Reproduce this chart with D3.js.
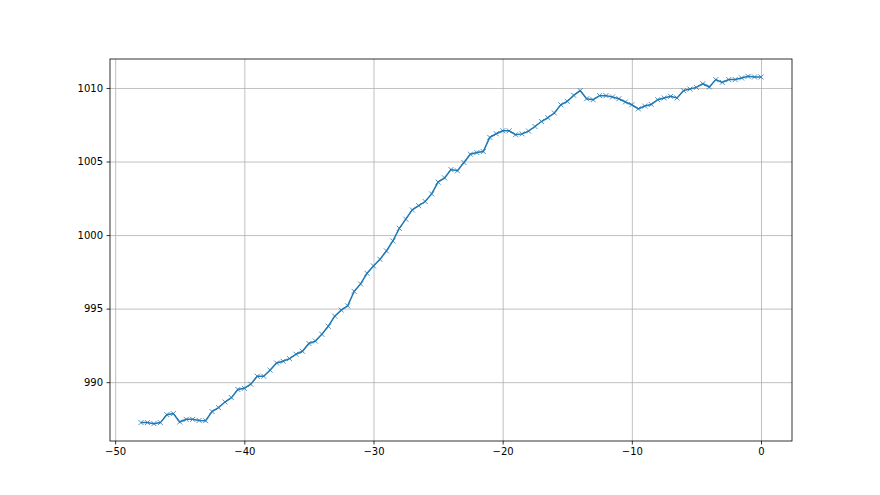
<!DOCTYPE html>
<html>
<head>
<meta charset="utf-8">
<script src="https://cdn.jsdelivr.net/npm/d3@7"></script>
<style>
  body { margin: 0; background: #fff; }
  svg text { font-family: "DejaVu Sans", sans-serif; font-size: 10px; fill: #000; }
  .grid line { stroke: #b0b0b0; stroke-width: 0.8; }
  .grid path { display: none; }
</style>
</head>
<body>
<div id="chart"></div>
<script>
// x positions (step 0.5 from -48 to 0)
var xs = d3.range(-48, 0.001, 0.5);

var values = [
  987.25, 987.25, 987.18, 987.25, 987.79, 987.86, 987.29, 987.47, 987.47, 987.40,
  987.38, 988.00, 988.27, 988.65, 988.95, 989.50, 989.58, 989.86, 990.40, 990.40,
  990.82, 991.30, 991.42, 991.60, 991.90, 992.10, 992.63, 992.79, 993.26, 993.80,
  994.49, 994.90, 995.19, 996.17, 996.68, 997.40, 997.90, 998.35, 998.92, 999.60,
  1000.46, 1001.08, 1001.71, 1002.00, 1002.28, 1002.80, 1003.60, 1003.89, 1004.45, 1004.37,
  1004.93, 1005.50, 1005.61, 1005.68, 1006.64, 1006.89, 1007.09, 1007.09, 1006.82, 1006.88,
  1007.07, 1007.38, 1007.72, 1007.98, 1008.30, 1008.86, 1009.09, 1009.50, 1009.82, 1009.27,
  1009.20, 1009.48, 1009.48, 1009.39, 1009.27, 1009.05, 1008.86, 1008.58, 1008.77, 1008.88,
  1009.20, 1009.32, 1009.43, 1009.32, 1009.82, 1009.93, 1010.04, 1010.29, 1010.07, 1010.57,
  1010.38, 1010.57, 1010.57, 1010.68, 1010.79, 1010.75, 1010.75
];

var xTicks = [-50, -40, -30, -20, -10, 0];
var yTicks = [990, 995, 1000, 1005, 1010];

var data = xs.map(function (x, i) { return { x: x, y: values[i] }; });

var W = 880, H = 495;
var margin = { top: 59, right: 88, bottom: 54, left: 110 },
  width = W - margin.left - margin.right,
  height = H - margin.top - margin.bottom;

// matplotlib-like 5% padding around the data
var xExt = d3.extent(xs), yExt = d3.extent(values);
var xPad = (xExt[1] - xExt[0]) * 0.05, yPad = (yExt[1] - yExt[0]) * 0.05;

var x = d3.scaleLinear().domain([xExt[0] - xPad, xExt[1] + xPad]).range([0, width]);
var y = d3.scaleLinear().domain([yExt[0] - yPad, yExt[1] + yPad]).range([height, 0]);

var fmt = function (d) { return d3.format("d")(d).replace("-", "\u2212"); };

var svg = d3.select("#chart").append("svg")
  .attr("width", W)
  .attr("height", H)
  .append("g")
  .attr("transform", "translate(" + margin.left + "," + margin.top + ")");

svg.append("g")
  .attr("class", "grid")
  .call(d3.axisLeft(y).tickValues(yTicks).tickSize(-width).tickFormat(""));

svg.append("g")
  .attr("class", "grid")
  .attr("transform", "translate(0," + height + ")")
  .call(d3.axisBottom(x).tickValues(xTicks).tickSize(-height).tickFormat(""));

var line = d3.line()
  .x(function (d) { return x(d.x); })
  .y(function (d) { return y(d.y); });

svg.append("path")
  .datum(data)
  .attr("fill", "none")
  .attr("stroke", "#1f77b4")
  .attr("stroke-width", 1.5)
  .attr("d", line);

var m = 2.5;
svg.selectAll(".mark")
  .data(data)
  .enter()
  .append("path")
  .attr("class", "mark")
  .attr("transform", function (d) { return "translate(" + x(d.x) + "," + y(d.y) + ")"; })
  .attr("d", "M" + -m + "," + -m + "L" + m + "," + m + "M" + -m + "," + m + "L" + m + "," + -m)
  .attr("stroke", "#1f77b4")
  .attr("stroke-width", 0.8)
  .attr("fill", "none");

var yAxis = svg.append("g")
  .call(d3.axisLeft(y).tickValues(yTicks).tickFormat(fmt).tickSizeInner(3.5).tickSizeOuter(0).tickPadding(3.5));

var xAxis = svg.append("g")
  .attr("transform", "translate(0," + height + ")")
  .call(d3.axisBottom(x).tickValues(xTicks).tickFormat(fmt).tickSizeInner(3.5).tickSizeOuter(0).tickPadding(3.5));

[yAxis, xAxis].forEach(function (a) {
  a.select(".domain").remove();
  a.selectAll(".tick line").attr("stroke", "#000").attr("stroke-width", 0.8);
});

// frame
svg.append("rect")
  .attr("width", width)
  .attr("height", height)
  .attr("fill", "none")
  .attr("stroke", "#000")
  .attr("stroke-width", 0.8);
</script>
</body>
</html>
